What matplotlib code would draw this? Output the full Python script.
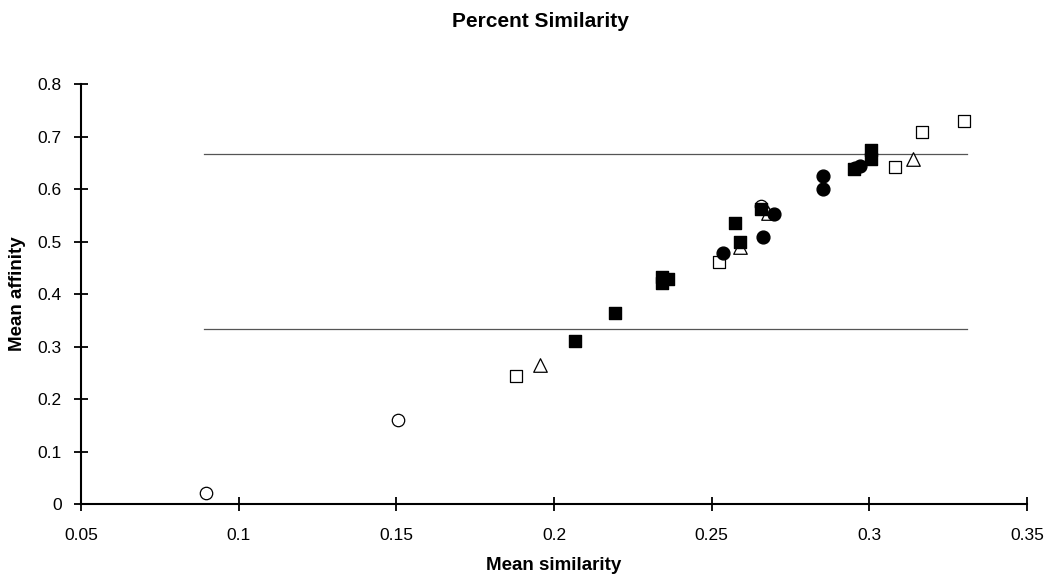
import matplotlib
matplotlib.use("Agg")
import matplotlib.pyplot as plt

plt.rcParams['font.family'] = ['Liberation Sans', 'DejaVu Sans']

# filled circles
fc_x = [0.2536, 0.2662, 0.2697, 0.2853, 0.2853, 0.2954, 0.2970]
fc_y = [0.478, 0.509, 0.552, 0.625, 0.600, 0.640, 0.644]
# filled squares
fs_x = [0.2066, 0.2193, 0.2342, 0.2342, 0.2361, 0.2574, 0.2590, 0.2656, 0.2950, 0.3005, 0.3005]
fs_y = [0.310, 0.364, 0.432, 0.421, 0.429, 0.535, 0.499, 0.563, 0.638, 0.674, 0.657]
# open circles
oc_x = [0.0896, 0.1505, 0.2656]
oc_y = [0.021, 0.160, 0.568]
# open squares
os_x = [0.1879, 0.2523, 0.3081, 0.3166, 0.3300]
os_y = [0.244, 0.461, 0.642, 0.709, 0.730]
# open triangles
ot_x = [0.1955, 0.2590, 0.2678, 0.3138]
ot_y = [0.265, 0.490, 0.554, 0.657]

# reference lines (thirds)
line_x = [0.089, 0.331]
line_levels = [2 / 3, 1 / 3]

fig = plt.figure(figsize=(10.59, 5.8), dpi=100)
ax = fig.add_axes([0.0765, 0.131, 0.8933, 0.724])

for lv in line_levels:
    ax.plot(line_x, [lv, lv], color='#555555', linewidth=0.9, zorder=1)

ax.scatter(os_x, os_y, marker='s', s=85, facecolors='white', edgecolors='black', linewidths=0.9, zorder=3)
ax.scatter(ot_x, ot_y, marker='^', s=95, facecolors='white', edgecolors='black', linewidths=0.9, zorder=3)
ax.scatter(oc_x, oc_y, marker='o', s=80, facecolors='white', edgecolors='black', linewidths=0.9, zorder=3)
ax.scatter(fc_x, fc_y, marker='o', s=85, color='black', zorder=4)
ax.scatter(fs_x, fs_y, marker='s', s=70, color='black', zorder=4)

ax.set_xlim(0.05, 0.35)
ax.set_ylim(0, 0.8)
ax.set_xticks([0.05, 0.1, 0.15, 0.2, 0.25, 0.3, 0.35])
ax.set_xticklabels(['0.05', '0.1', '0.15', '0.2', '0.25', '0.3', '0.35'])
ax.set_yticks([0, 0.1, 0.2, 0.3, 0.4, 0.5, 0.6, 0.7, 0.8])
ax.set_yticklabels(['0', '0.1', '0.2', '0.3', '0.4', '0.5', '0.6', '0.7', '0.8'])

for side in ['top', 'right']:
    ax.spines[side].set_visible(False)
for side in ['left', 'bottom']:
    ax.spines[side].set_linewidth(1.5)
ax.tick_params(direction='inout', length=10, width=1.3, labelsize=12.5)
ax.tick_params(axis='x', pad=12)
ax.tick_params(axis='y', pad=9)

ax.set_xlabel('Mean similarity', fontsize=13.5, fontweight='bold', labelpad=10)
ax.set_ylabel('Mean affinity', fontsize=13.5, fontweight='bold', labelpad=8)
fig.text(0.51, 0.963, 'Percent Similarity', fontsize=15, fontweight='bold',
         ha='center', va='center')

fig.savefig('out.png', dpi=100)
